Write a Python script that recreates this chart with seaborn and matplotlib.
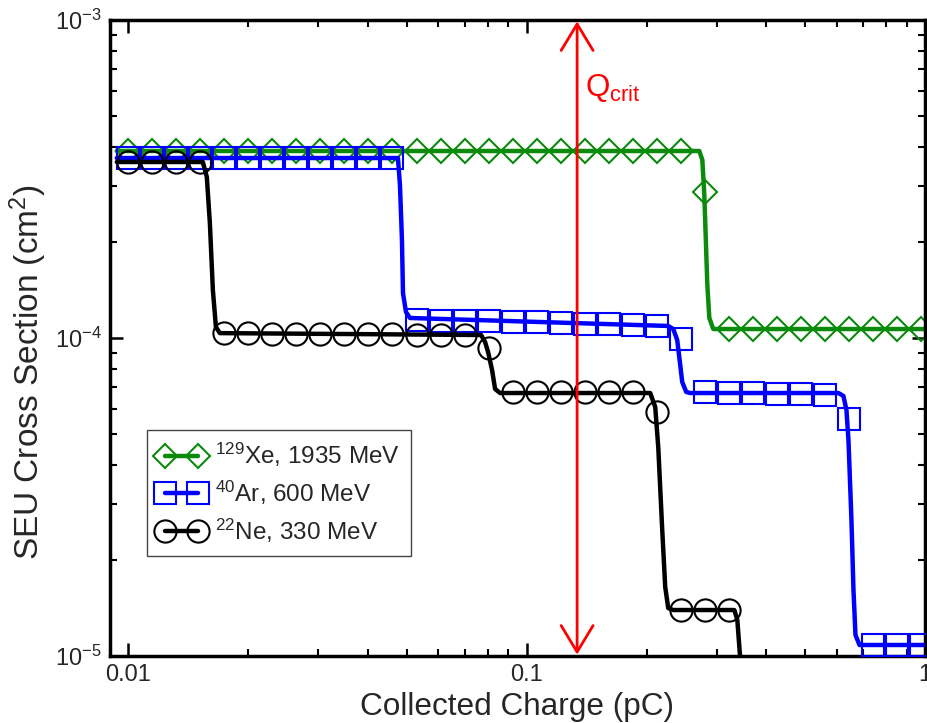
import matplotlib
matplotlib.use("Agg")
import matplotlib.pyplot as plt
import seaborn as sns
import pandas as pd
from matplotlib.lines import Line2D
from matplotlib.ticker import FixedLocator, FixedFormatter, LogLocator, NullFormatter

# ---------------- data ----------------
# common x grid of the symbols (pC)
grid_x = [0.01, 0.01149, 0.01320, 0.01517, 0.01743, 0.02002, 0.02300, 0.02643,
          0.03037, 0.03489, 0.04009, 0.04606, 0.05292, 0.06080, 0.06986, 0.08027,
          0.09222, 0.1060, 0.1217, 0.1399, 0.1607, 0.1846, 0.2121, 0.2437,
          0.2800, 0.3217, 0.3696, 0.4247, 0.4880, 0.5607, 0.6442, 0.7401,
          0.8503, 0.9770]

xe_sym_y = [3.87e-4] * 24 + [2.88e-4] + [1.067e-4] * 9
ar_sym_y = ([3.68e-4] * 12
            + [1.14e-4, 1.135e-4, 1.13e-4, 1.13e-4, 1.125e-4, 1.12e-4, 1.115e-4,
               1.11e-4, 1.105e-4, 1.10e-4, 1.09e-4]
            + [9.9e-5]
            + [6.75e-5, 6.72e-5, 6.70e-5, 6.68e-5, 6.66e-5, 6.63e-5]
            + [5.56e-5]
            + [1.083e-5] * 3)
ne_sym_y = ([3.58e-4] * 4
            + [1.036e-4, 1.035e-4, 1.033e-4, 1.032e-4, 1.03e-4, 1.03e-4, 1.028e-4,
               1.026e-4, 1.025e-4, 1.023e-4, 1.022e-4]
            + [9.3e-5]
            + [6.76e-5] * 6
            + [5.85e-5]
            + [1.40e-5] * 3)

# continuous curves
xe_line_x = [0.00936, 0.2713, 0.2761, 0.2793, 0.2842, 0.2875, 0.2942, 1.0]
xe_line_y = [3.873e-4, 3.873e-4, 3.63e-4, 2.82e-4, 1.468e-4, 1.156e-4, 1.067e-4, 1.067e-4]

ar_line_x = [0.00936, 0.04753, 0.04809, 0.04865, 0.04894, 0.04979, 0.05096,
             0.2267, 0.2334, 0.2388, 0.2430, 0.2458, 0.2516, 0.2575,
             0.6064, 0.6241, 0.6351, 0.6425, 0.6537, 0.6614, 0.6691, 0.6847, 1.0]
ar_line_y = [3.681e-4, 3.681e-4, 3.028e-4, 2.033e-4, 1.385e-4, 1.207e-4, 1.156e-4,
             1.091e-4, 1.067e-4, 9.856e-5, 8.225e-5, 7.271e-5, 6.764e-5, 6.714e-5,
             6.714e-5, 6.57e-5, 5.937e-5, 4.777e-5, 2.677e-5, 1.612e-5, 1.164e-5,
             1.083e-5, 1.083e-5]

ne_line_x = [0.00936, 0.01539, 0.01575, 0.01603, 0.01631, 0.01660, 0.01698,
             0.07686, 0.07865, 0.08004, 0.08190, 0.08335, 0.08578,
             0.2043, 0.2103, 0.2140, 0.2190, 0.2228, 0.2267, 0.2334,
             0.3322, 0.3380, 0.3439, 0.3540]
ne_line_y = [3.577e-4, 3.577e-4, 3.208e-4, 2.299e-4, 1.415e-4, 1.083e-4, 1.036e-4,
             1.022e-4, 9.714e-5, 9.036e-5, 7.93e-5, 6.913e-5, 6.714e-5,
             6.714e-5, 6.067e-5, 4.541e-5, 2.489e-5, 1.648e-5, 1.415e-5, 1.395e-5,
             1.395e-5, 1.298e-5, 9.714e-6, 4.71e-6]

series_labels = [r"$^{129}$Xe, 1935 MeV", r"$^{40}$Ar, 600 MeV", r"$^{22}$Ne, 330 MeV"]
series_colors = ["#0b8a0b", "#0000ff", "#000000"]
series_markers = ["D", "s", "o"]

qcrit_x = 0.1339
qcrit_y_top = 9.9e-4
qcrit_y_bottom = 1.01e-5

x_ticks = [0.01, 0.1, 1.0]
x_ticklabels = ["0.01", "0.1", "1"]
y_ticks = [1e-5, 1e-4, 1e-3]
y_ticklabels = [r"$10^{-5}$", r"$10^{-4}$", r"$10^{-3}$"]

# ---------------- style ----------------
sns.set_style("ticks")
plt.rcParams["font.family"] = ["Liberation Sans", "DejaVu Sans"]
plt.rcParams["mathtext.fontset"] = "custom"
plt.rcParams["mathtext.rm"] = "Liberation Sans"
plt.rcParams["mathtext.it"] = "Liberation Sans:italic"
plt.rcParams["mathtext.bf"] = "Liberation Sans:bold"
plt.rcParams["mathtext.default"] = "regular"

fig = plt.figure(figsize=(9.28, 7.23), dpi=100)
ax = fig.add_axes([110 / 928, 1 - 656 / 723, 815 / 928, 636 / 723])

LW = 3.2
MEW = 1.5
MS = {"D": 12.5, "s": 16.0, "o": 16.0}

curves = [
    (ar_line_x, ar_line_y, ar_sym_y, 1),
    (xe_line_x, xe_line_y, xe_sym_y, 0),
    (ne_line_x, ne_line_y, ne_sym_y, 2),
]
for lx, ly, sy, i in curves:
    col = series_colors[i]
    mk = series_markers[i]
    dfl = pd.DataFrame({"x": lx, "y": ly})
    sns.lineplot(data=dfl, x="x", y="y", ax=ax, color=col, lw=LW, sort=False,
                 estimator=None, legend=False, zorder=2 + i)
    dfs = pd.DataFrame({"x": grid_x[:len(sy)], "y": sy})
    sns.lineplot(data=dfs, x="x", y="y", ax=ax, color=col, linestyle="none",
                 marker=mk, markersize=MS[mk], markerfacecolor="none",
                 markeredgecolor=col, markeredgewidth=MEW, sort=False,
                 estimator=None, legend=False, zorder=2.5 + i)

ax.set_xscale("log")
ax.set_yscale("log")
ax.set_xlim(0.009, 1.0)
ax.set_ylim(1e-5, 1e-3)

# Q_crit arrow
ax.annotate("", xy=(qcrit_x, qcrit_y_top), xytext=(qcrit_x, qcrit_y_bottom),
            arrowprops=dict(arrowstyle="<->,head_length=19,head_width=11.5",
                            color="#ff0000", lw=2.0, shrinkA=0, shrinkB=0,
                            mutation_scale=1),
            zorder=10)
ax.text(0.1403, 5.77e-4, r"Q$_{crit}$", color="#ff0000", fontsize=22.5,
        va="baseline", ha="left", zorder=10)

# ticks
ax.xaxis.set_major_locator(FixedLocator(x_ticks))
ax.xaxis.set_major_formatter(FixedFormatter(x_ticklabels))
ax.xaxis.set_minor_locator(LogLocator(base=10, subs=range(2, 10)))
ax.xaxis.set_minor_formatter(NullFormatter())
ax.yaxis.set_major_locator(FixedLocator(y_ticks))
ax.yaxis.set_major_formatter(FixedFormatter(y_ticklabels))
ax.yaxis.set_minor_locator(LogLocator(base=10, subs=range(2, 10)))
ax.yaxis.set_minor_formatter(NullFormatter())

ax.tick_params(which="both", direction="in", top=True, right=True, color="black")
ax.tick_params(which="major", length=9.5, width=1.8, labelsize=17, pad=6)
ax.tick_params(which="minor", length=5, width=1.5)
for sp in ax.spines.values():
    sp.set_linewidth(2.5)
    sp.set_color("black")

ax.set_xlabel("Collected Charge (pC)", fontsize=22.7, labelpad=4)
ax.set_ylabel(r"SEU Cross Section (cm$^2$)", fontsize=24)
ax.yaxis.set_label_coords(-0.075, 0.447)

# legend
handles = [Line2D([], [], color=series_colors[i], lw=LW, marker=series_markers[i],
                  markersize=MS[series_markers[i]], markerfacecolor="none",
                  markeredgecolor=series_colors[i], markeredgewidth=MEW)
           for i in range(3)]
leg = ax.legend(handles, series_labels, loc="upper left",
                bbox_to_anchor=(0.0454, 0.3553), borderaxespad=0, numpoints=2,
                fontsize=17.5, handlelength=1.95, handletextpad=0.4,
                labelspacing=0.4, borderpad=0.45, fancybox=False, framealpha=1,
                edgecolor="#444444")
leg.get_frame().set_linewidth(1.0)
leg.set_zorder(20)

fig.savefig("out.png", dpi=100, facecolor="white")
